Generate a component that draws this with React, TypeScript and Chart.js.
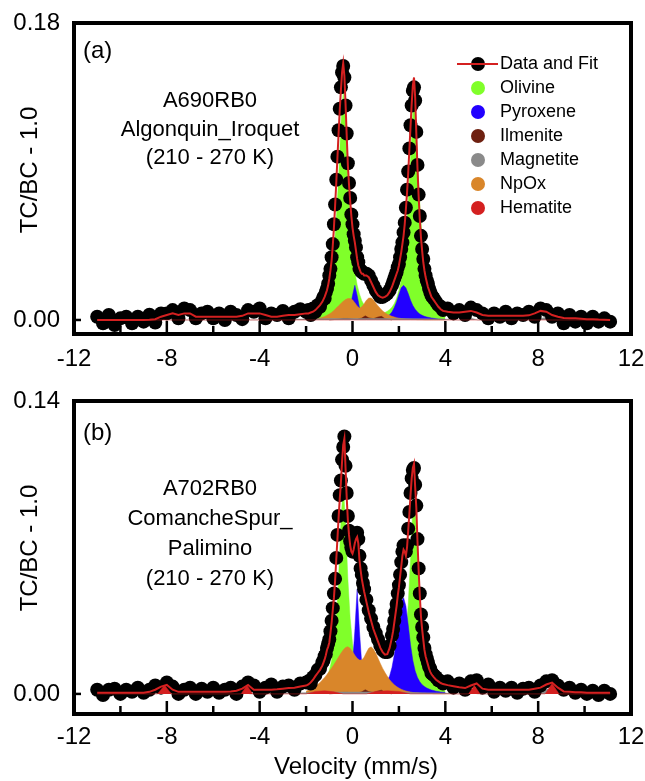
import React, { useEffect, useRef } from "react";
import { Chart, registerables } from "chart.js";

Chart.register(...registerables);

const FONT = '"Liberation Sans", Arial, Helvetica, sans-serif';
const RED = "#d42020";
const OLIVINE = "#80ff2a";
const PYROXENE = "#2200ff";
const ILMENITE = "#6e2010";
const MAGNETITE = "#8a8a8a";
const NPOX = "#d9862a";
const HEMATITE = "#d42020";

// ---- measured velocity channels (mm/s) ----
const velocity = [
  -11, -10.75, -10.5, -10.25, -10, -9.75, -9.5, -9.25, -9, -8.75, -8.5, -8.25, -8, -7.75, -7.5, -7.25, -7, -6.75, -6.5, -6.25, -6, -5.75, -5.5, -5.25, -5, -4.75, -4.5, -4.25, -4, -3.75, -3.5, -3.25, -3, -2.75, -2.5, -2.25, -2,
  -1.9, -1.8, -1.7, -1.6, -1.5, -1.4, -1.3,
  -1.25, -1.2, -1.15, -1.1, -1.05, -1, -0.95, -0.9, -0.85, -0.8, -0.75, -0.7, -0.65, -0.6, -0.55, -0.5, -0.45, -0.4, -0.35, -0.3, -0.25, -0.2, -0.15, -0.1, -0.05, 0, 0.05, 0.1, 0.15, 0.2, 0.25, 0.3, 0.35, 0.4, 0.45, 0.5,
  0.6, 0.7, 0.8, 0.9, 1, 1.1, 1.2, 1.3, 1.4, 1.5, 1.6, 1.7,
  1.75, 1.8, 1.85, 1.9, 1.95, 2, 2.05, 2.1, 2.15, 2.2, 2.25, 2.3, 2.35, 2.4, 2.45, 2.5, 2.55, 2.6, 2.65, 2.7, 2.75, 2.8, 2.85, 2.9, 2.95, 3, 3.05, 3.1, 3.15, 3.2, 3.25, 3.3, 3.35, 3.4, 3.45, 3.5,
  3.6, 3.7, 3.8, 3.9,
  4.1, 4.35, 4.6, 4.85, 5.1, 5.35, 5.6, 5.85, 6.1, 6.35, 6.6, 6.85, 7.1, 7.35, 7.6, 7.85, 8.1, 8.35, 8.6, 8.85, 9.1, 9.35, 9.6, 9.85, 10.1, 10.35, 10.6, 10.85, 11.1,
];

// ---- panel (a) ----
const fitA = [
  0, 0, 0, 0, 0, 0, 0, 0, 0, 0.0002, 0.0005, 0.002, 0.003, 0.004, 0.003, 0.004, 0.004, 0.002, 0.002, 0.002, 0.002, 0.002, 0.002, 0.002, 0.002, 0.0025, 0.004, 0.004, 0.004, 0.003, 0.002, 0.002, 0.0025, 0.003, 0.003, 0.0035, 0.004,
  0.004, 0.0045, 0.005, 0.006, 0.0075, 0.009, 0.011,
  0.0125, 0.014, 0.016, 0.018, 0.021, 0.025, 0.03, 0.036, 0.045, 0.056, 0.069, 0.083, 0.098, 0.113, 0.127, 0.139, 0.15, 0.1556, 0.148, 0.131, 0.112, 0.094, 0.082, 0.072, 0.063, 0.056, 0.051, 0.047, 0.042, 0.037, 0.033, 0.031, 0.029, 0.028, 0.028, 0.027,
  0.027, 0.026, 0.023, 0.02, 0.017, 0.015, 0.014, 0.0135, 0.014, 0.015, 0.017, 0.02,
  0.022, 0.024, 0.026, 0.028, 0.03, 0.033, 0.037, 0.041, 0.046, 0.051, 0.058, 0.067, 0.077, 0.089, 0.103, 0.117, 0.131, 0.142, 0.147, 0.135, 0.113, 0.092, 0.075, 0.061, 0.05, 0.042, 0.035, 0.03, 0.026, 0.023, 0.02, 0.018, 0.016, 0.014, 0.013, 0.012,
  0.01, 0.008, 0.0065, 0.0055,
  0.005, 0.0045, 0.0045, 0.005, 0.0055, 0.0045, 0.003, 0.0025, 0.0025, 0.0025, 0.0025, 0.0025, 0.0025, 0.0025, 0.0028, 0.004, 0.0055, 0.005, 0.003, 0.002, 0.0012, 0.001, 0.001, 0.0008, 0.0005, 0.0005, 0.0003, 0.0002, 0,
];
const dataA = [
  0.002, -0.002, 0.003, -0.003, 0.001, 0.002, -0.002, 0.002, -0.001, 0.0032, -0.0015, 0.004, 0.004, 0.006, 0.001, 0.007, 0.006, 0.001, 0.004, 0.005, 0.001, 0.004, 0, 0.005, 0.003, 0.0005, 0.006, 0.005, 0.007, 0.001, 0.004, 0.003, 0.0055, 0.001, 0.005, 0.0065, 0.005,
  0.006, 0.003, 0.007, 0.005, 0.009, 0.008, 0.012,
  0.014, 0.013, 0.017, 0.019, 0.022, 0.027, 0.031, 0.038, 0.046, 0.058, 0.07, 0.085, 0.099, 0.115, 0.128, 0.141, 0.15, 0.154, 0.147, 0.13, 0.113, 0.095, 0.083, 0.074, 0.064, 0.058, 0.052, 0.048, 0.044, 0.038, 0.035, 0.031, 0.03, 0.029, 0.029, 0.028,
  0.028, 0.027, 0.024, 0.021, 0.018, 0.016, 0.014, 0.014, 0.015, 0.016, 0.018, 0.021,
  0.023, 0.025, 0.027, 0.029, 0.032, 0.034, 0.038, 0.043, 0.047, 0.053, 0.059, 0.068, 0.079, 0.09, 0.104, 0.118, 0.13, 0.139, 0.141, 0.133, 0.114, 0.094, 0.076, 0.063, 0.051, 0.043, 0.037, 0.031, 0.027, 0.024, 0.022, 0.019, 0.017, 0.015, 0.014, 0.013,
  0.011, 0.009, 0.008, 0.006,
  0.007, 0.004, 0.006, 0.003, 0.0075, 0.006, 0.004, 0.001, 0.004, 0.002, 0.005, 0.001, 0.004, 0.003, 0.005, 0.002, 0.007, 0.006, 0.002, 0.004, -0.002, 0.003, -0.001, 0.002, -0.002, 0.002, -0.001, 0.001, -0.001,
];

// ---- panel (b) ----
const fitB = [
  0.0005, 0.0005, 0.0005, 0.0005, 0.0005, 0.0005, 0.0005, 0.0005, 0.0006, 0.001, 0.002, 0.0035, 0.0043, 0.002, 0.001, 0.001, 0.001, 0.001, 0.001, 0.001, 0.001, 0.001, 0.001, 0.0012, 0.0015, 0.0025, 0.0043, 0.002, 0.002, 0.002, 0.002, 0.0022, 0.0025, 0.0028, 0.003, 0.0035, 0.004,
  0.0045, 0.0055, 0.0068, 0.0085, 0.01, 0.0115, 0.0135,
  0.015, 0.0165, 0.0185, 0.021, 0.0225, 0.0245, 0.029, 0.034, 0.04, 0.046, 0.054, 0.064, 0.074, 0.084, 0.093, 0.101, 0.111, 0.119, 0.122, 0.108, 0.094, 0.083, 0.076, 0.071, 0.068, 0.067, 0.069, 0.072, 0.074, 0.075, 0.072, 0.064, 0.059, 0.055, 0.052, 0.049,
  0.044, 0.039, 0.035, 0.031, 0.028, 0.025, 0.022, 0.02, 0.0188, 0.019, 0.022, 0.027,
  0.03, 0.034, 0.038, 0.042, 0.047, 0.051, 0.056, 0.061, 0.066, 0.069, 0.068, 0.066, 0.07, 0.078, 0.086, 0.095, 0.103, 0.108, 0.11, 0.099, 0.089, 0.073, 0.059, 0.047, 0.037, 0.031, 0.026, 0.021, 0.018, 0.016, 0.014, 0.012, 0.0105, 0.0095, 0.0087, 0.008,
  0.0068, 0.006, 0.0052, 0.0047,
  0.0042, 0.0037, 0.0032, 0.0028, 0.004, 0.005, 0.0025, 0.002, 0.002, 0.002, 0.002, 0.002, 0.002, 0.002, 0.002, 0.0025, 0.003, 0.0045, 0.0054, 0.003, 0.0012, 0.001, 0.0008, 0.0008, 0.0006, 0.0006, 0.0005, 0.0005, 0.0005,
];
const dataB = [
  0.002, -0.0005, 0.002, 0.0025, 0, 0.002, 0.001, 0.003, 0.0005, 0.002, 0.004, 0.003, 0.0055, 0.0035, 0, 0.002, 0.003, 0, 0.0025, 0.001, 0.003, 0.0005, 0.002, 0.003, 0, 0.0035, 0.0055, 0.004, 0.001, 0.003, 0.0045, 0.001, 0.0035, 0.004, 0.002, 0.005, 0.0055,
  0.006, 0.005, 0.008, 0.009, 0.0115, 0.012, 0.015,
  0.016, 0.018, 0.019, 0.022, 0.024, 0.026, 0.03, 0.035, 0.041, 0.048, 0.055, 0.065, 0.076, 0.085, 0.095, 0.102, 0.112, 0.118, 0.123, 0.109, 0.096, 0.085, 0.078, 0.073, 0.07, 0.068, 0.071, 0.073, 0.076, 0.077, 0.074, 0.066, 0.06, 0.057, 0.053, 0.05,
  0.045, 0.04, 0.036, 0.032, 0.029, 0.026, 0.023, 0.021, 0.02, 0.02, 0.023, 0.028,
  0.031, 0.035, 0.039, 0.043, 0.048, 0.052, 0.057, 0.063, 0.068, 0.071, 0.07, 0.068, 0.071, 0.079, 0.087, 0.096, 0.103, 0.107, 0.108, 0.1, 0.09, 0.074, 0.06, 0.048, 0.038, 0.032, 0.027, 0.022, 0.019, 0.017, 0.015, 0.013, 0.012, 0.01, 0.0095, 0.009,
  0.008, 0.0065, 0.006, 0.005,
  0.006, 0.003, 0.005, 0.002, 0.006, 0.0065, 0.003, 0.0045, 0.001, 0.003, 0.0015, 0.003, 0.0005, 0.0025, 0.003, 0.001, 0.004, 0.006, 0.0065, 0.004, 0.002, 0.003, 0.0005, 0.002, 0, 0.0015, -0.0005, 0.0015, 0,
];

// ---- fitted sub-spectra (central region) ----
const compVelocity = [
  -2, -1.9, -1.8, -1.7, -1.6, -1.5, -1.4, -1.3, -1.2, -1.1, -1, -0.9, -0.8, -0.7, -0.6, -0.5, -0.4, -0.3, -0.2, -0.1,
  0, 0.1, 0.2, 0.3, 0.4, 0.5, 0.6, 0.7, 0.8, 0.9,
  1, 1.1, 1.2, 1.3, 1.4, 1.5, 1.6, 1.7, 1.8, 1.9,
  2, 2.1, 2.2, 2.3, 2.4, 2.5, 2.6, 2.7, 2.8, 2.9,
  3, 3.1, 3.2, 3.3, 3.4, 3.5, 3.6, 3.7, 3.8, 3.9,
  4,
];
const olivineA = [
  0.0017, 0.0021, 0.0025, 0.003, 0.0039, 0.005, 0.0062, 0.0083, 0.011, 0.0152, 0.0207, 0.029, 0.0414, 0.0607, 0.0856, 0.1187, 0.138, 0.1187, 0.0856, 0.0607,
  0.0417, 0.0294, 0.0212, 0.0158, 0.0117, 0.0091, 0.0072, 0.0062, 0.0053, 0.0047,
  0.004, 0.0038, 0.0038, 0.0041, 0.0045, 0.0053, 0.0063, 0.0077, 0.0099, 0.0132,
  0.0178, 0.0244, 0.0335, 0.0492, 0.0704, 0.098, 0.127, 0.127, 0.0979, 0.0702,
  0.049, 0.0331, 0.0239, 0.0173, 0.0126, 0.0093, 0.007, 0.0055, 0.0043, 0.0034,
  0.0027,
];
const pyroxeneA = [
  0.0003, 0.0003, 0.0004, 0.0004, 0.0005, 0.0005, 0.0006, 0.0006, 0.0007, 0.0008, 0.0008, 0.0009, 0.001, 0.0011, 0.0011, 0.0013, 0.0018, 0.0026, 0.0042, 0.0076,
  0.0148, 0.021, 0.0148, 0.0076, 0.0042, 0.0026, 0.0018, 0.0013, 0.001, 0.0009,
  0.0009, 0.0009, 0.001, 0.0013, 0.0017, 0.0023, 0.0032, 0.0048, 0.0075, 0.011,
  0.0155, 0.0195, 0.021, 0.0195, 0.016, 0.012, 0.0088, 0.0065, 0.0048, 0.0036,
  0.0028, 0.0022, 0.0018, 0.0015, 0.0012, 0.001, 0.0008, 0.0006, 0.0005, 0.0004,
  0.0003,
];
const npoxA = [
  0.0002, 0.0003, 0.0004, 0.0005, 0.0007, 0.0009, 0.0012, 0.0016, 0.0021, 0.0028, 0.0036, 0.0046, 0.0058, 0.0072, 0.0086, 0.01, 0.0113, 0.0124, 0.013, 0.013,
  0.0122, 0.0105, 0.0085, 0.0072, 0.008, 0.0098, 0.012, 0.0133, 0.0133, 0.0122,
  0.0103, 0.0085, 0.0069, 0.0055, 0.0044, 0.0035, 0.0028, 0.0022, 0.0018, 0.0014,
  0.0011, 0.0009, 0.0007, 0.0006, 0.0005, 0.0004, 0.0003, 0.0003, 0.0002, 0.0002,
  0.0002, 0.0001, 0.0001, 0.0001, 0.0001, 0.0001, 0.0001, 0.0001, 0.0001, 0.0001,
  0.0001,
];
const olivineB = [
  0.0009, 0.0011, 0.0014, 0.0018, 0.0022, 0.0028, 0.0035, 0.0045, 0.006, 0.008, 0.011, 0.016, 0.024, 0.036, 0.055, 0.082, 0.1, 0.082, 0.055, 0.036,
  0.0242, 0.0162, 0.0112, 0.0082, 0.0062, 0.0047, 0.0038, 0.0031, 0.0026, 0.0023,
  0.0022, 0.0022, 0.0021, 0.0022, 0.0025, 0.0029, 0.0033, 0.0041, 0.0052, 0.0068,
  0.0091, 0.0129, 0.0189, 0.0283, 0.0424, 0.064, 0.0893, 0.0893, 0.0639, 0.0423,
  0.0282, 0.0188, 0.0127, 0.0089, 0.0066, 0.0049, 0.0038, 0.0029, 0.0024, 0.0019,
  0.0015,
];
const pyroxeneB = [
  0.0004, 0.0004, 0.0005, 0.0005, 0.0006, 0.0007, 0.0008, 0.0009, 0.001, 0.0011, 0.0012, 0.0013, 0.0015, 0.0017, 0.002, 0.0023, 0.0028, 0.0036, 0.005, 0.0078,
  0.014, 0.03, 0.05, 0.03, 0.014, 0.0078, 0.005, 0.0038, 0.003, 0.0026,
  0.0025, 0.0026, 0.003, 0.0036, 0.0047, 0.0063, 0.0086, 0.0126, 0.0186, 0.027,
  0.037, 0.044, 0.046, 0.042, 0.033, 0.0235, 0.016, 0.011, 0.0078, 0.0058,
  0.0044, 0.0035, 0.0028, 0.0023, 0.0019, 0.0016, 0.0013, 0.0011, 0.0009, 0.0008,
  0.0007,
];
const npoxB = [
  0.0013, 0.0018, 0.0024, 0.003, 0.0037, 0.0045, 0.0055, 0.0066, 0.0079, 0.0093, 0.0108, 0.0124, 0.014, 0.0158, 0.0176, 0.0194, 0.021, 0.0222, 0.0226, 0.0218,
  0.0203, 0.0185, 0.017, 0.0162, 0.0162, 0.0175, 0.0198, 0.0218, 0.0225, 0.0215,
  0.0195, 0.017, 0.0145, 0.0122, 0.0102, 0.0084, 0.0068, 0.0055, 0.0044, 0.0035,
  0.0028, 0.0022, 0.0018, 0.0014, 0.0011, 0.0009, 0.0007, 0.0006, 0.0005, 0.0004,
  0.0003, 0.0003, 0.0002, 0.0002, 0.0002, 0.0001, 0.0001, 0.0001, 0.0001, 0.0001,
  0.0001,
];

const ilmVelocity = [-1.0, -0.6, -0.4, -0.2, 0.0, 0.2, 0.4, 0.55, 0.7, 0.9, 1.1, 1.25, 1.4, 1.7];
const ilmeniteA = [0, 0.0005, 0.0009, 0.0009, 0.0006, 0.0004, 0.0012, 0.0025, 0.0013, 0.0008, 0.0018, 0.0022, 0.0008, 0];
const ilmeniteB = [0, 0.0004, 0.0007, 0.0007, 0.0005, 0.0004, 0.001, 0.002, 0.0011, 0.0007, 0.0014, 0.0018, 0.0007, 0];

const magVelocity = [-11, -8.8, -8.3, -7.8, -5.2, -4.8, -4.4, -2.0, -1.0, 0, 1.0, 2.0, 3.0, 4.0, 4.6, 5.0, 5.4, 7.9, 8.4, 8.9, 11.1];
const magnetiteA = [0, 0, 0.002, 0, 0, 0.0015, 0, 0.0006, 0.0009, 0.0009, 0.0009, 0.0009, 0.0008, 0.0005, 0, 0.0015, 0, 0, 0.002, 0, 0];
const magnetiteB = [0, 0, 0.0015, 0, 0, 0.001, 0, 0.0006, 0.0009, 0.0009, 0.0009, 0.0008, 0.0006, 0.0004, 0, 0.001, 0, 0, 0.0025, 0, 0];

const hemVelocity = [-11, -8.4, -8.1, -7.8, -4.8, -4.55, -4.3, -2.0, -1.6, -1.2, -0.8, -0.4, 0.6, 1.0, 1.5, 2.0, 2.5, 5.0, 5.25, 5.5, 8.3, 8.6, 8.9, 11.1];
const hematiteA = [0, 0, 0, 0, 0, 0, 0, 0, 0, 0, 0, 0, 0, 0, 0, 0, 0, 0, 0, 0, 0, 0, 0, 0];
const hematiteB = [0, 0, 0.0042, 0, 0, 0.0042, 0, 0, 0.0012, 0.0015, 0.001, 0, 0, 0.0012, 0.0015, 0.0012, 0, 0, 0.004, 0, 0, 0.005, 0, 0];

// ---- axes / text ----
const xTickMarks = [-10, -8, -6, -4, -2, 0, 2, 4, 6, 8, 10];
const yTicksA = [0, 0.18];
const yTicksB = [0, 0.14];
const legendLabels = ["Data and Fit", "Olivine", "Pyroxene", "Ilmenite", "Magnetite", "NpOx", "Hematite"];
const legendColors = ["#000", OLIVINE, PYROXENE, ILMENITE, MAGNETITE, NPOX, HEMATITE];
const sampleA = ["A690RB0", "Algonquin_Iroquet", "(210 - 270 K)"];
const sampleB = ["A702RB0", "ComancheSpur_", "Palimino", "(210 - 270 K)"];

function pts(xs: number[], ys: number[]) {
  return xs.map((x, i) => ({ x, y: ys[i] }));
}

function area(label: string, xs: number[], ys: number[], color: string, order: number) {
  return {
    label,
    data: pts(xs, ys),
    showLine: true,
    fill: "origin",
    backgroundColor: color,
    borderColor: color,
    borderWidth: 0.5,
    pointRadius: 0,
    tension: 0,
    order,
  };
}

function decor(spec: any) {
  return {
    id: "decor" + spec.key,
    afterDatasetsDraw(chart: any) {
      const { ctx, chartArea: a, scales } = chart;
      const xs = scales.x;
      const ys = scales.y;
      ctx.save();
      ctx.strokeStyle = "#000";
      ctx.lineWidth = 2.5;
      ctx.lineCap = "butt";
      for (const v of xTickMarks) {
        const px = xs.getPixelForValue(v);
        const len = v % 4 === 0 ? 13 : 8;
        ctx.beginPath();
        ctx.moveTo(px, a.bottom);
        ctx.lineTo(px, a.bottom - len);
        ctx.stroke();
      }
      const py = ys.getPixelForValue(0);
      ctx.beginPath();
      ctx.moveTo(a.left, py);
      ctx.lineTo(a.left + 7, py);
      ctx.stroke();
      ctx.lineWidth = 4;
      ctx.strokeRect(a.left, a.top, a.right - a.left, a.bottom - a.top);
      ctx.restore();
    },
    afterDraw(chart: any) {
      const { ctx } = chart;
      ctx.save();
      ctx.fillStyle = "#000";
      ctx.font = `24px ${FONT}`;
      ctx.textAlign = "left";
      ctx.textBaseline = "alphabetic";
      ctx.fillText(spec.tag, 83, spec.tagY);
      ctx.font = `22px ${FONT}`;
      ctx.textAlign = "center";
      spec.lines.forEach((t: string, i: number) => ctx.fillText(t, 210, spec.lineYs[i]));
      ctx.save();
      ctx.translate(30, spec.yTitleY);
      ctx.rotate(-Math.PI / 2);
      ctx.font = `24px ${FONT}`;
      ctx.textAlign = "center";
      ctx.textBaseline = "middle";
      ctx.fillText("TC/BC - 1.0", 0, 0);
      ctx.restore();
      if (spec.xTitle) {
        ctx.font = `24px ${FONT}`;
        ctx.textAlign = "center";
        ctx.textBaseline = "middle";
        ctx.fillText("Velocity (mm/s)", 356, spec.xTitleY);
      }
      if (spec.legend) {
        const x0 = 478;
        const y0 = 64;
        const dy = 24;
        ctx.font = `18px ${FONT}`;
        ctx.textAlign = "left";
        ctx.textBaseline = "middle";
        legendLabels.forEach((lab, i) => {
          const y = y0 + dy * i;
          ctx.fillStyle = legendColors[i];
          ctx.beginPath();
          ctx.arc(x0, y, 7, 0, Math.PI * 2);
          ctx.fill();
          if (i === 0) {
            ctx.strokeStyle = RED;
            ctx.lineWidth = 2;
            ctx.beginPath();
            ctx.moveTo(457, y);
            ctx.lineTo(498, y);
            ctx.stroke();
          }
          ctx.fillStyle = "#000";
          ctx.fillText(lab, 500, y);
        });
      }
      ctx.restore();
    },
  };
}

function makeConfig(spec: any): any {
  return {
    type: "scatter",
    data: {
      datasets: [
        { label: "Fit", data: pts(velocity, spec.fit), showLine: true, borderColor: RED, borderWidth: 2, pointRadius: 0, fill: false, tension: 0, order: 0 },
        area("Hematite", hemVelocity, spec.hem, HEMATITE, 1),
        { label: "Data", data: pts(velocity, spec.data), showLine: false, pointRadius: 7, pointBorderWidth: 0, backgroundColor: "#000", borderColor: "#000", order: 2 },
        area("Magnetite", magVelocity, spec.mag, MAGNETITE, 3),
        area("Ilmenite", ilmVelocity, spec.ilm, ILMENITE, 4),
        area("NpOx", compVelocity, spec.npox, NPOX, 5),
        area("Pyroxene", compVelocity, spec.pyx, PYROXENE, 6),
        area("Olivine", compVelocity, spec.oli, OLIVINE, 7),
      ],
    },
    options: {
      animation: false,
      responsive: false,
      events: [],
      layout: { padding: { top: spec.padTop, right: 14, left: 0, bottom: 0 } },
      plugins: { legend: { display: false }, tooltip: { enabled: false } },
      scales: {
        x: {
          type: "linear",
          min: -12,
          max: 12,
          grid: { display: false, drawTicks: false, tickLength: 0 },
          border: { display: false },
          ticks: {
            stepSize: 4,
            autoSkip: false,
            maxRotation: 0,
            padding: spec.xLabelPad,
            color: "#000",
            font: { family: FONT, size: 24 },
            callback: (v: any) => String(v),
          },
          afterFit: (s: any) => {
            s.height = spec.xAxisHeight;
            s.paddingLeft = 0;
            s.paddingRight = 0;
          },
        },
        y: {
          type: "linear",
          min: spec.yMin,
          max: spec.yMax,
          grid: { display: false, drawTicks: false, tickLength: 0 },
          border: { display: false },
          afterBuildTicks: (s: any) => {
            s.ticks = spec.yTicks.map((v: number) => ({ value: v }));
          },
          ticks: {
            padding: 14,
            color: "#000",
            font: { family: FONT, size: 24 },
            callback: (v: any) => Number(v).toFixed(2),
          },
          afterFit: (s: any) => {
            s.width = 74;
            s.paddingTop = 0;
            s.paddingBottom = 0;
          },
        },
      },
    },
    plugins: [decor(spec)],
  };
}

const panelA = {
  key: "A",
  fit: fitA, data: dataA, oli: olivineA, pyx: pyroxeneA, npox: npoxA, ilm: ilmeniteA, mag: magnetiteA, hem: hematiteA,
  yMin: -0.0085, yMax: 0.18, yTicks: yTicksA, padTop: 23, xAxisHeight: 46, xLabelPad: 11,
  tag: "(a)", tagY: 58, lines: sampleA, lineYs: [107, 136, 164], yTitleY: 170, legend: true, xTitle: false, xTitleY: 0,
};
const panelB = {
  key: "B",
  fit: fitB, data: dataB, oli: olivineB, pyx: pyroxeneB, npox: npoxB, ilm: ilmeniteB, mag: magnetiteB, hem: hematiteB,
  yMin: -0.0096, yMax: 0.14, yTicks: yTicksB, padTop: 21, xAxisHeight: 67, xLabelPad: 9,
  tag: "(b)", tagY: 60, lines: sampleB, lineYs: [115, 145, 175, 205], yTitleY: 168, legend: false, xTitle: true, xTitleY: 387,
};

export default function App() {
  const refA = useRef<HTMLCanvasElement | null>(null);
  const refB = useRef<HTMLCanvasElement | null>(null);
  useEffect(() => {
    const a = new Chart(refA.current as any, makeConfig(panelA));
    const b = new Chart(refB.current as any, makeConfig(panelB));
    return () => {
      a.destroy();
      b.destroy();
    };
  }, []);
  return (
    <div style={{ position: "absolute", left: 0, top: 0, width: 645, height: 781, background: "#fff" }}>
      <canvas ref={refA} width={645} height={380} style={{ position: "absolute", left: 0, top: 0, width: 645, height: 380 }} />
      <canvas ref={refB} width={645} height={401} style={{ position: "absolute", left: 0, top: 380, width: 645, height: 401 }} />
    </div>
  );
}
